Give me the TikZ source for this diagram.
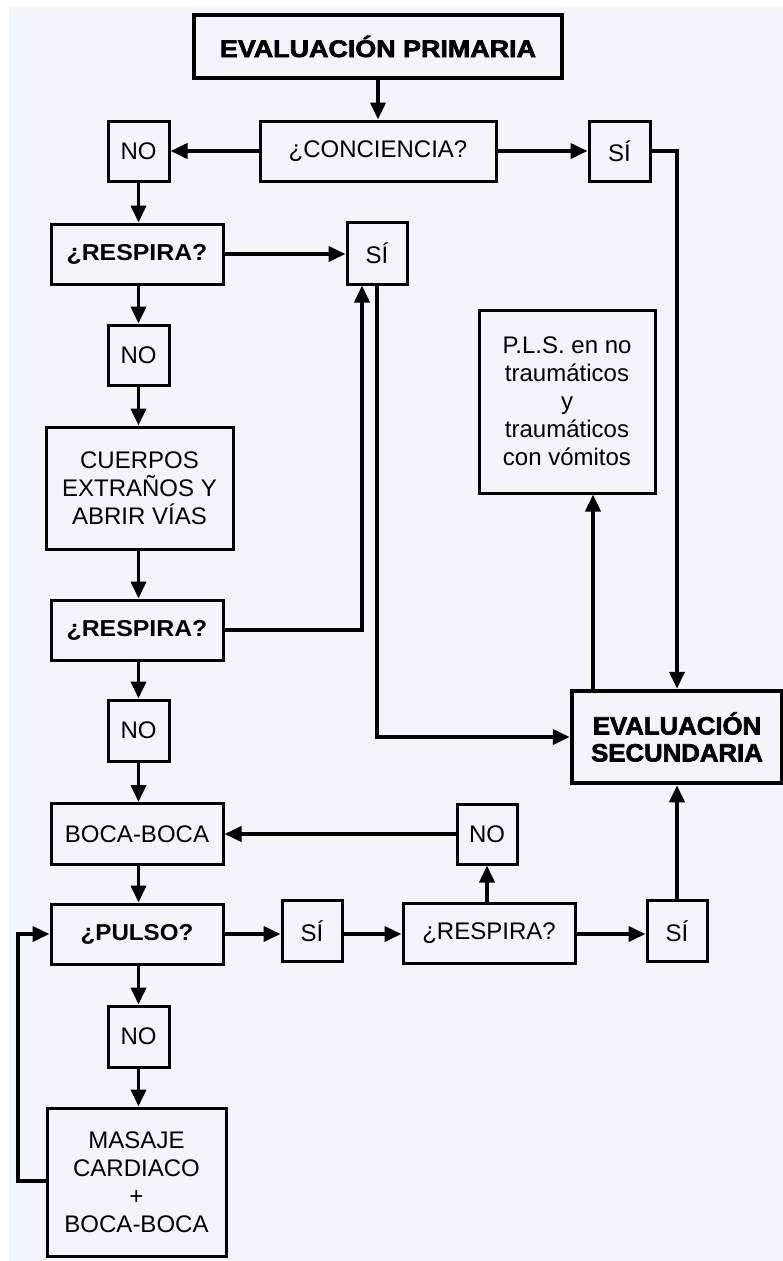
\documentclass[tikz,border=0pt]{standalone}
\usepackage{fontspec}
\setmainfont{Liberation Sans}
\newfontfamily\heavyfont[FakeBold=2.5]{Liberation Sans Bold}
\usetikzlibrary{arrows.meta}
\definecolor{bg}{RGB}{242,245,250}
\begin{document}
\begin{tikzpicture}[x=1pt,y=-1pt,
  box/.style={draw, line width=3pt, fill=bg, inner sep=0pt, align=center,
    font=\fontsize{24}{28}\selectfont},
  bbox/.style={box, font=\fontsize{23}{28}\selectfont\bfseries},
  hbox/.style={box, line width=4.5pt},
  arr/.style={line width=3.8pt, -{Triangle[length=17pt,width=15pt]}},
  ln/.style={line width=3.8pt}]
\useasboundingbox (0,0) rectangle (783,1261);
\fill[bg] (9,7) rectangle (783,1261);

% nodes
\node[hbox, minimum width=368pt, minimum height=63pt] (EP) at (378,46.5)
  {\heavyfont\fontsize{24}{28}\selectfont\scalebox{1.12}[1]{EVALUACIÓN PRIMARIA}};
\node[box, minimum width=236pt, minimum height=60pt] (CONC) at (378,151) {¿CONCIENCIA?};
\node[box, minimum width=61pt, minimum height=60pt] (NO1) at (138.5,151) {NO};
\node[box, minimum width=61pt, minimum height=60pt] (SI1) at (619.5,151) {SÍ};
\node[bbox, minimum width=172pt, minimum height=60pt] (R1) at (137,254) {\scalebox{1.08}[1]{¿RESPIRA?}};
\node[box, minimum width=60pt, minimum height=62pt] (SI2) at (377,253) {SÍ};
\node[box, minimum width=61pt, minimum height=60pt] (NO2) at (138.5,355) {NO};
\node[box, minimum width=187pt, minimum height=122pt] (CE) at (139.5,488)
  {CUERPOS\\EXTRAÑOS Y\\ABRIR VÍAS};
\node[bbox, minimum width=172pt, minimum height=60pt] (R2) at (137,630) {\scalebox{1.08}[1]{¿RESPIRA?}};
\node[box, minimum width=176pt, minimum height=183pt] (PLS) at (567,401.5)
  {P.L.S. en no\\traumáticos\\y\\traumáticos\\con vómitos};
\node[hbox, minimum width=210pt, minimum height=92pt] (ES) at (677,737)
  {\heavyfont\fontsize{25}{29}\selectfont\scalebox{1.03}[1]{EVALUACIÓN}\\[-1pt]\heavyfont\fontsize{25}{29}\selectfont\scalebox{1.03}[1]{SECUNDARIA}};
\node[box, minimum width=61pt, minimum height=61pt] (NO3) at (138.5,730.5) {NO};
\node[box, minimum width=172pt, minimum height=61pt] (BB) at (137,834) {BOCA-BOCA};
\node[box, minimum width=60pt, minimum height=60pt] (NO4) at (487,834) {NO};
\node[bbox, minimum width=172pt, minimum height=60pt] (PU) at (137,934) {\scalebox{1.05}[1]{¿PULSO?}};
\node[box, minimum width=60pt, minimum height=61pt] (SI3) at (312,931) {SÍ};
\node[box, minimum width=172pt, minimum height=60pt] (R3) at (489,933) {¿RESPIRA?};
\node[box, minimum width=60pt, minimum height=61pt] (SI4) at (677,931) {SÍ};
\node[box, minimum width=61pt, minimum height=61pt] (NO5) at (138.5,1036.5) {NO};
\node[box, minimum width=179pt, minimum height=148pt] (MA) at (136.5,1182)
  {MASAJE\\CARDIACO\\+\\BOCA-BOCA};

\coordinate (pl) at (593,0);
\coordinate (lp) at (18,1181);
\coordinate (up) at (362,0);

% connectors
\draw[arr] (EP.south -| CONC) -- (CONC.north);
\draw[arr] (CONC.west) -- (NO1.east);
\draw[arr] (CONC.east) -- (SI1.west);
\draw[arr] (SI1.east) -| (ES.north);
\draw[arr] (NO1.south) -- (R1.north -| NO1);
\draw[arr] (R1.east) -- (SI2.west |- R1.east);
\draw[arr] (R1.south -| NO2) -- (NO2.north);
\draw[arr] (NO2.south) -- (CE.north -| NO2);
\draw[arr] (CE.south -| NO2) -- (R2.north -| NO2);
\draw[arr] (R2.east) -| (SI2.south -| up);
\draw[arr] (SI2.south) |- (ES.west);
\draw[arr] (ES.north -| pl) -- (PLS.south -| pl);
\draw[arr] (R2.south -| NO3) -- (NO3.north);
\draw[arr] (NO3.south) -- (BB.north -| NO3);
\draw[arr] (NO4.west) -- (BB.east |- NO4.west);
\draw[arr] (BB.south -| NO3) -- (PU.north -| NO3);
\draw[arr] (PU.east) -- (SI3.west |- PU.east);
\draw[arr] (SI3.east |- PU.east) -- (R3.west |- PU.east);
\draw[arr] (R3.east |- PU.east) -- (SI4.west |- PU.east);
\draw[arr] (R3.north -| NO4) -- (NO4.south);
\draw[arr] (SI4.north) -- (ES.south -| SI4);
\draw[arr] (PU.south -| NO5) -- (NO5.north);
\draw[arr] (NO5.south) -- (MA.north -| NO5);
\draw[arr] (MA.west |- lp) -- (lp) |- (PU.west);
\end{tikzpicture}
\end{document}
